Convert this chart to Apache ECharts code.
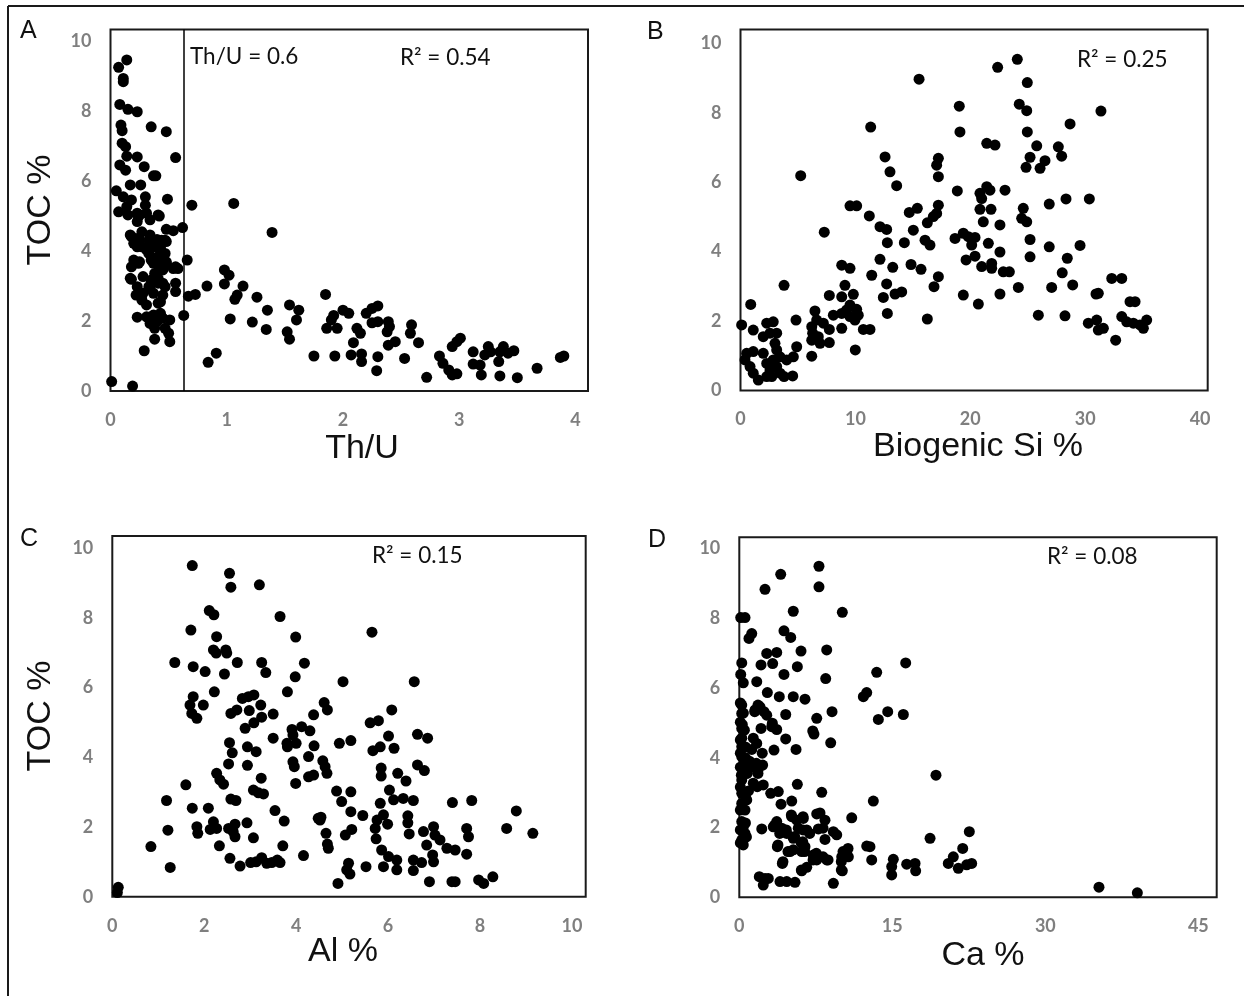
<!DOCTYPE html>
<html>
<head>
<meta charset="utf-8">
<style>
  html, body { margin: 0; padding: 0; background: #ffffff; }
  #chart { width: 1244px; height: 996px; }
</style>
<script src="https://cdn.jsdelivr.net/npm/echarts@6/dist/echarts.min.js"></script>
</head>
<body>
<div id="chart"></div>
<script>
// ---------------- DATA ----------------
// Panel A: Th/U vs TOC %
const aThU = [0.14,0.07,0.11,0.11,0.08,0.15,0.23,0.09,0.10,0.35,0.48,0.10,0.13,0.14,0.23,0.56,0.08,0.13,0.29,0.37,0.39,0.05,0.17,0.26,0.49,0.70,1.06,0.11,0.18,0.30,
  0.07,0.14,0.23,0.30,0.25,0.23,0.34,0.42,0.18,0.25,0.34,0.40,0.47,0.48,0.54,0.62,1.39,0.23,0.31,0.37,0.43,0.20,0.25,0.18,0.37,0.43,0.48,0.54,0.58,0.66,
  0.18,0.28,0.35,0.41,0.45,0.34,0.37,0.45,0.56,0.22,0.27,0.31,0.43,0.67,0.73,0.83,0.98,1.02,0.98,1.14,1.09,1.07,1.26,1.35,1.54,1.62,1.60,1.52,1.54,1.34,
  1.22,1.03,0.63,0.23,0.31,0.37,0.43,0.34,0.40,0.45,0.51,0.38,0.47,0.50,0.38,0.51,0.29,0.91,0.84,0.01,0.19,
  0.15,0.24,0.31,0.41,0.17,0.23,0.20,0.27,0.33,0.44,0.48,0.27,0.35,0.43,0.33,0.41,0.47,0.24,0.35,0.41,0.48,0.45,0.56,0.17,0.38,0.41,0.47,0.56,0.23,0.28,0.33,0.41,
  1.85,1.92,1.90,1.86,1.95,2.00,2.05,2.12,2.15,2.09,2.20,2.25,2.30,2.25,2.30,2.39,2.40,2.38,2.39,2.45,2.59,2.58,2.65,1.75,1.93,2.07,2.16,2.16,2.30,2.29,
  2.53,2.72,2.83,2.86,2.91,2.94,2.98,2.94,2.98,3.01,3.12,3.12,3.18,3.19,3.22,3.25,3.27,3.34,3.35,3.38,3.42,3.47,3.35,3.50,3.67,3.87,3.90];
const aTOC = [9.46,9.25,8.93,8.84,8.19,8.05,7.98,7.60,7.44,7.55,7.41,7.08,6.98,6.71,6.69,6.67,6.46,6.31,6.41,6.15,6.15,5.72,5.89,5.89,5.48,5.31,5.36,5.55,5.46,5.55,
  5.12,5.27,5.08,5.31,5.03,4.84,4.89,5.00,4.41,4.31,4.46,4.33,4.31,4.62,4.58,4.67,4.53,4.12,4.03,4.12,4.03,3.74,3.69,3.55,3.65,3.55,3.65,3.50,3.50,3.74,
  3.19,3.27,3.17,3.22,3.08,2.93,2.79,2.74,2.84,2.74,2.60,2.46,2.55,2.71,2.76,3.00,3.46,3.31,3.06,3.00,2.74,2.62,2.68,2.31,2.46,2.31,2.03,1.69,1.48,1.76,
  1.97,2.06,2.16,2.11,2.12,2.17,2.22,1.93,1.98,2.08,2.03,1.79,1.79,1.65,1.48,1.41,1.15,1.08,0.82,0.27,0.14,
  5.03,4.98,5.08,5.03,4.46,4.36,4.22,4.55,4.31,4.31,4.27,4.12,4.08,4.12,3.93,3.84,3.93,3.65,3.74,3.60,3.69,3.46,3.55,3.22,3.36,3.08,2.98,3.08,2.98,2.79,2.98,2.51,
  2.76,2.16,2.03,1.79,1.79,2.31,2.22,1.79,1.65,1.38,2.22,2.36,2.43,1.95,1.98,1.98,1.84,1.69,1.31,1.41,1.89,1.65,1.38,1.00,1.00,1.03,1.06,0.84,0.98,0.58,
  0.93,0.39,1.00,0.79,0.60,0.46,0.49,1.27,1.41,1.51,1.12,0.77,0.74,0.46,1.03,1.27,1.12,0.84,1.12,1.27,1.08,1.15,0.43,0.38,0.65,0.96,1.00];
const thUCut = 0.63;

// Panel B: Biogenic Si % vs TOC %
const bSi = [0.1,0.89,1.11,0.54,1.11,0.39,0.83,1.11,1.55,2.28,1.98,2.57,2.28,2.85,3.15,3.0,3.15,3.44,2.85,2.57,3.15,3.44,1.98,2.28,2.72,3.79,3.79,4.54,4.02,4.6,
  4.89,4.83,5.24,6.2,6.2,6.28,6.2,6.77,6.63,7.21,6.92,6.48,7.73,7.73,7.29,7.73,8.08,8.81,9.24,9.53,8.81,8.81,9.53,9.09,8.81,9.82,9.53,10.11,9.96,10.25,
  9.99,10.69,11.27,9.53,10.11,11.33,11.21,11.42,12.58,13.01,13.59,12.14,12.72,12.78,12.14,13.25,12.72,12.43,13.45,14.03,12.78,14.26,14.84,14.69,15.39,15.04,15.54,15.71,16.06,16.49,
  16.26,16.78,16.84,16.26,17.07,17.22,17.22,17.22,17.07,17.22,
  24.09,22.38,24.96,19.04,19.1,24.26,24.91,31.37,28.68,24.96,21.43,22.15,25.78,27.66,27.95,25.2,24.85,26.07,26.5,18.87,20.84,21.43,21.71,20.99,23.02,20.84,21.8,21.13,22.58,24.61,
  24.47,24.91,26.87,28.33,30.36,18.67,19.39,19.83,20.41,20.12,21.57,22.58,25.2,25.2,26.87,29.55,20.41,19.63,21.86,21.86,20.99,22.87,23.4,28.44,28.0,24.18,27.08,28.91,32.31,33.18,
  19.39,20.7,22.58,30.94,31.14,33.9,34.34,25.92,28.24,30.27,31.0,31.14,31.58,33.18,33.61,34.19,34.77,35.35,35.06,32.65];
const bTOC = [1.89,2.48,1.74,1.07,1.12,0.88,0.69,0.5,0.3,0.4,1.55,1.65,1.94,1.98,1.65,1.36,1.17,0.97,0.88,0.59,0.69,0.5,1.07,0.78,0.4,3.03,0.4,0.42,0.88,0.97,
  1.26,2.03,6.19,0.99,1.84,1.65,1.45,1.55,2.03,1.94,1.36,2.29,1.76,1.38,4.56,2.74,2.17,2.22,2.32,2.13,1.79,3.61,3.52,3.03,2.7,2.77,2.46,2.34,2.03,2.17,
  1.17,1.76,1.76,5.32,5.32,7.59,5.03,3.32,6.73,6.3,5.9,4.72,4.64,4.26,3.78,3.55,3.07,2.68,2.78,2.84,2.22,4.26,3.63,5.13,5.25,4.62,8.97,3.49,4.33,4.19,
  4.83,5.01,2.99,2.06,6.49,6.69,6.16,5.34,5.1,3.28,
  9.54,9.31,8.87,8.19,7.45,8.25,8.06,8.05,7.68,7.45,7.12,7.07,7.05,7.02,6.75,6.72,6.43,6.4,6.62,5.75,5.68,5.87,5.77,5.53,5.77,5.22,5.22,4.86,4.77,5.25,
  4.96,4.86,5.37,5.52,5.52,4.38,4.53,4.43,4.41,4.19,4.24,3.99,4.35,3.85,4.14,4.18,3.87,3.76,3.66,3.52,3.57,3.42,3.42,3.81,3.39,2.97,2.97,3.04,3.23,3.23,
  2.75,2.49,2.78,2.78,2.8,2.56,2.56,2.17,2.15,1.94,2.03,1.74,1.79,2.13,1.98,1.94,1.89,2.03,1.79,1.45];

// Panel C: Al % vs TOC %
const cAl = [1.74,2.55,2.58,3.2,2.11,2.21,3.65,1.71,2.27,3.99,2.2,2.26,2.47,2.49,1.36,1.76,2.02,2.44,2.72,3.25,3.34,4.18,3.98,2.22,3.81,1.76,1.69,1.84,1.98,1.73,
  2.83,2.96,3.08,2.58,2.71,2.98,3.23,3.25,3.08,3.5,2.89,4.38,3.91,3.93,4.12,4.3,3.8,3.81,4.0,3.5,2.55,2.61,2.94,3.13,4.39,4.27,3.93,3.96,2.53,2.94,
  2.27,2.34,2.42,1.6,3.24,3.99,4.27,4.38,3.07,3.18,3.29,2.58,2.69,1.18,1.74,2.09,3.54,4.48,3.74,1.84,1.86,2.13,2.2,2.27,2.53,2.63,2.67,2.67,2.93,3.07,
  1.21,0.84,2.33,3.71,2.56,2.78,3.01,3.13,3.25,3.36,3.47,3.59,3.65,4.16,1.26,0.13,0.11,
  5.65,5.02,6.57,4.61,4.68,6.08,5.61,5.79,6.01,6.64,6.86,4.94,5.19,5.67,5.83,6.13,4.58,4.63,4.67,5.85,5.85,6.64,6.79,6.21,6.39,4.88,5.19,4.99,6.03,6.12,
  6.33,6.55,5.83,7.4,7.82,8.79,5.19,5.45,4.54,4.52,5.9,5.76,5.99,5.72,6.43,6.43,5.74,4.65,4.68,4.7,5.07,5.21,6.46,6.77,6.99,7.02,6.84,7.13,7.28,7.46,
  6.97,6.99,7.71,7.75,7.71,8.58,9.15,5.86,6.01,6.19,5.9,6.19,6.55,6.55,6.73,5.52,5.14,5.1,5.17,4.91,6.9,7.39,7.46,7.97,8.08,8.28];
const cTOC = [9.5,9.28,8.88,8.95,8.21,8.09,8.04,7.65,7.46,7.45,7.08,6.99,7.08,6.99,6.72,6.6,6.46,6.39,6.72,6.72,6.43,6.7,6.31,5.88,5.88,5.74,5.5,5.12,5.5,5.26,
  5.69,5.74,5.79,5.26,5.36,5.34,5.5,5.15,4.99,5.24,4.83,5.22,4.8,4.64,4.88,4.76,4.4,4.3,4.4,4.55,4.42,4.13,4.3,4.16,4.33,4.02,3.87,3.73,3.81,3.77,
  3.54,3.35,3.23,3.21,3.4,3.25,3.44,3.49,3.06,2.98,2.95,2.8,2.76,2.76,2.54,2.54,2.47,2.25,2.17,2.01,1.82,1.93,2.15,1.96,1.96,1.87,1.72,2.08,2.12,1.69,
  1.91,1.44,1.46,1.46,1.1,0.88,0.98,1.0,1.12,0.96,0.98,1.05,0.98,1.18,0.84,0.27,0.12,
  7.59,6.17,6.17,5.57,5.36,5.36,4.99,5.05,4.61,4.66,4.55,4.4,4.48,4.19,4.3,4.26,3.9,3.73,3.54,3.69,3.46,3.78,3.62,3.54,3.32,3.03,3.01,2.73,3.06,2.78,
  2.82,2.76,2.68,2.7,2.76,2.46,2.44,2.33,2.28,2.2,2.35,2.2,2.08,1.96,2.32,2.12,1.66,1.82,1.51,1.39,1.77,1.93,1.8,1.87,2.01,1.77,1.48,1.63,1.39,1.34,
  1.2,1.0,1.96,1.72,1.22,1.96,1.82,1.34,1.15,1.05,0.86,0.77,1.05,0.75,0.98,0.86,0.96,0.77,0.65,0.38,0.43,0.43,0.43,0.48,0.38,0.57];

// Panel D: Ca % vs TOC %
const dCa = [7.81,7.81,4.06,2.52,5.29,10.1,0.14,0.56,1.22,0.95,4.38,5.04,2.69,3.67,6.05,8.57,0.24,0.14,2.13,3.27,5.69,4.38,0.39,1.71,8.47,2.75,3.92,5.29,6.44,12.16,
  12.49,13.47,16.31,0.24,0.24,1.54,2.03,2.69,2.42,4.55,7.59,9.09,13.63,14.55,16.08,2.13,3.18,3.67,7.2,7.32,0.24,0.24,0.24,1.37,1.71,1.22,4.55,8.96,3.4,5.56,
  2.25,0.24,0.39,0.73,0.24,1.37,1.86,2.29,1.37,1.76,2.35,5.69,3.08,3.82,8.08,19.28,0.24,0.24,0.73,0.56,4.09,5.14,13.14,0.24,0.39,0.56,0.24,0.39,2.2,3.33,
  3.67,4.16,4.65,5.29,5.14,5.63,6.27,5.78,6.61,7.59,7.91,8.4,7.75,9.22,9.55,8.4,11.02,18.7,3.73,4.97,5.29,6.22,6.44,6.12,7.25,7.59,8.57,4.22,10.04,10.53,
  10.69,12.49,12.98,12.81,10.1,6.12,6.61,15.1,14.94,14.94,16.41,17.23,17.29,1.96,2.52,2.35,2.84,3.99,4.65,5.46,9.22,
  22.55,21.9,20.98,20.49,21.47,22.29,22.78,35.26,39.02,
  0.1,0.4,0.1,0.5,0.1,0.6,0.1,0.5,0.1,0.8,0.1,0.6,0.1,0.6,0.1,0.7,0.1,0.9,1.0,0.6,0.3,0.2,
  1.83,1.51,3.24,1.67,1.83,5.1,6.25,3.47,3.96,4.61,5.43,6.25,6.9,8.21,3.79,4.77,6.08,6.41,7.55,8.21,10.17,10.66,10.0,4.28,6.08,7.23,8.7,10.0];
const dTOC = [9.49,8.9,9.26,8.83,8.2,8.17,8.02,8.02,7.56,7.42,7.64,7.45,6.99,7.02,7.06,7.09,6.72,6.39,6.66,6.7,6.61,6.39,6.15,6.18,6.27,5.87,5.75,5.75,5.68,5.75,
  5.87,6.45,6.72,5.51,5.27,5.37,5.46,5.22,5.32,5.24,5.13,5.32,5.1,5.32,5.24,4.84,4.89,4.81,4.77,4.68,4.84,4.56,4.32,4.56,4.41,4.24,4.54,4.43,4.22,4.24,
  4.13,4.03,3.74,3.55,3.36,3.74,3.67,3.79,3.27,3.17,3.22,3.24,2.98,3.03,3.01,3.5,2.98,2.69,2.79,2.5,2.67,2.76,2.76,2.17,2.02,1.83,1.64,1.5,1.96,2.02,
  2.17,1.98,1.83,1.69,2.31,2.21,2.26,1.98,1.93,2.39,2.42,2.21,1.96,1.88,1.79,1.66,2.28,1.69,1.45,1.31,1.36,1.59,1.45,1.31,1.21,1.07,1.07,0.97,1.16,1.28,
  1.16,1.47,1.07,1.45,0.76,0.76,0.86,1.09,0.88,0.64,0.95,0.97,0.76,0.59,0.54,0.35,0.54,0.45,0.45,0.43,0.4,
  1.88,1.4,1.16,0.97,0.83,0.93,0.97,0.29,0.13,
  5.57,5.28,5.02,4.79,4.51,4.31,4.13,3.93,3.73,3.56,3.16,2.87,2.5,2.13,1.93,1.73,1.56,3.05,3.9,4.0,4.95,3.5,
  5.51,5.32,4.99,3.84,3.55,2.36,2.31,2.07,1.83,1.93,1.74,1.93,1.83,1.98,1.5,1.31,1.55,1.31,1.26,1.16,1.31,1.4,1.02,1.02,0.78,1.07,1.07,0.78];

// Tick labels / texts
const yTicksTOC = [0, 2, 4, 6, 8, 10];
const panelLetters = ['A', 'B', 'C', 'D'];
const r2Labels = ['R² = 0.54', 'R² = 0.25', 'R² = 0.15', 'R² = 0.08'];
const xTitles = ['Th/U', 'Biogenic Si %', 'Al %', 'Ca %'];
const yTitle = 'TOC %';
const cutLabel = 'Th/U = 0.6';

// ---------------- CHART ----------------
function zip(xs, ys) { return xs.map((x, i) => [x, ys[i]]); }

const tickFont = { color: '#7f7f7f', fontFamily: 'Lato', fontWeight: 'bold', fontSize: 18 };

// grid rectangles (pixel layout)
const grids = [
  { left: 110.5, top: 29.5, width: 477.5, height: 361.5 },
  { left: 740.5, top: 29.5, width: 467.2, height: 361 },
  { left: 112.3, top: 536, width: 473.4, height: 360.7 },
  { left: 739.3, top: 537.3, width: 477.4, height: 360 }
];
const xMax = [4.108, 40.66, 10.30, 46.8];
const xInterval = [1, 10, 2, 15];
const yMax = [10.33, 10.40, 10.35, 10.32];

const dotStyle = { color: '#000000', opacity: 1 };

const option = {
  animation: false,
  backgroundColor: '#ffffff',
  grid: grids.map(g => Object.assign({ show: true, borderColor: '#1a1a1a', borderWidth: 2, backgroundColor: 'transparent', containLabel: false }, g)),
  xAxis: grids.map((g, i) => ({
    type: 'value', gridIndex: i, min: 0, max: xMax[i], interval: xInterval[i],
    axisLine: { show: false }, axisTick: { show: false }, splitLine: { show: false },
    axisLabel: Object.assign({ margin: 20, showMaxLabel: false, showMinLabel: true }, tickFont)
  })),
  yAxis: grids.map((g, i) => ({
    type: 'value', gridIndex: i, min: 0, max: yMax[i], interval: 2,
    axisLine: { show: false }, axisTick: { show: false }, splitLine: { show: false },
    axisLabel: Object.assign({ margin: 19, showMaxLabel: false, showMinLabel: true,
      formatter: v => (yTicksTOC.indexOf(Math.round(v * 1000) / 1000) >= 0 ? String(v) : '') }, tickFont)
  })),
  series: [
    { type: 'scatter', xAxisIndex: 0, yAxisIndex: 0, data: zip(aThU, aTOC), symbol: 'circle', symbolSize: 11,
      itemStyle: dotStyle, silent: true,
      markLine: { silent: true, symbol: ['none', 'none'], label: { show: false },
        lineStyle: { color: '#000000', width: 1.5, type: 'solid' }, data: [{ xAxis: thUCut }] } },
    { type: 'scatter', xAxisIndex: 1, yAxisIndex: 1, data: zip(bSi, bTOC), symbol: 'circle', symbolSize: 11, itemStyle: dotStyle, silent: true },
    { type: 'scatter', xAxisIndex: 2, yAxisIndex: 2, data: zip(cAl, cTOC), symbol: 'circle', symbolSize: 11, itemStyle: dotStyle, silent: true },
    { type: 'scatter', xAxisIndex: 3, yAxisIndex: 3, data: zip(dCa, dTOC), symbol: 'circle', symbolSize: 11, itemStyle: dotStyle, silent: true }
  ],
  graphic: []
};

const g = option.graphic;
// outer frame (top and left rules)
g.push({ type: 'line', shape: { x1: 8, y1: 6, x2: 1244, y2: 6 }, style: { stroke: '#1a1a1a', lineWidth: 2 } });
g.push({ type: 'line', shape: { x1: 8, y1: 6, x2: 8, y2: 996 }, style: { stroke: '#1a1a1a', lineWidth: 2 } });

function txt(text, x, y, font, opts) {
  opts = opts || {};
  g.push({ type: 'text', x: x, y: y, rotation: opts.rotation || 0, silent: true,
    style: { text: text, font: font, fill: opts.fill || '#111111', align: opts.align || 'left', verticalAlign: opts.va || 'middle' } });
}
const letterFont = '25px "Liberation Sans"';
const letterPos = [[20, 31], [647, 32], [20, 539], [648, 540]];
panelLetters.forEach((L, i) => txt(L, letterPos[i][0], letterPos[i][1], letterFont));

const annFont = '22.5px Lato';
const r2Pos = [[400, 58], [1077, 60], [372, 556], [1047, 557]];
r2Labels.forEach((t, i) => txt(t, r2Pos[i][0], r2Pos[i][1], annFont));
txt(cutLabel, 190, 57, annFont);

const titleFont = '34px "Liberation Sans"';
const xTitlePos = [[362, 449], [978, 447], [343, 952], [983, 956]];
xTitles.forEach((t, i) => txt(t, xTitlePos[i][0], xTitlePos[i][1], titleFont, { align: 'center' }));
txt(yTitle, 41, 210, titleFont, { align: 'center', rotation: Math.PI / 2 });
txt(yTitle, 41, 716, titleFont, { align: 'center', rotation: Math.PI / 2 });

const chart = echarts.init(document.getElementById('chart'), null, { renderer: 'canvas' });
chart.setOption(option);
</script>
</body>
</html>
